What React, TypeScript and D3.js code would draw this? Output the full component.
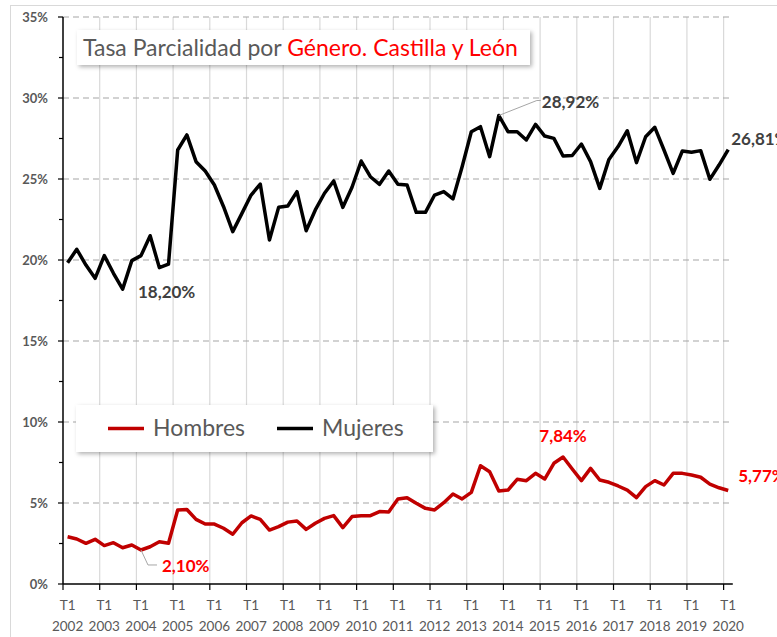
import React from "react";
import * as d3 from "d3";

const years = ["2002", "2003", "2004", "2005", "2006", "2007", "2008", "2009", "2010", "2011", "2012", "2013", "2014", "2015", "2016", "2017", "2018", "2019", "2020"];
const quarterNames = ["T1", "T2", "T3", "T4"];

// Tasa de parcialidad (%) por trimestre, T1 2002 - T1 2020
const mujeres = [
  19.83, 20.66, 19.69, 18.87, 20.27, 19.18, 18.2, 19.96, 20.27, 21.5, 19.53, 19.75,
  26.79, 27.72, 26.07, 25.49, 24.63, 23.29, 21.75, 22.88, 24.01, 24.69, 21.23, 23.25,
  23.33, 24.22, 21.81, 23.09, 24.12, 24.88, 23.25, 24.49, 26.11, 25.14, 24.67, 25.49,
  24.67, 24.63, 22.94, 22.94, 24.01, 24.22, 23.77, 25.76, 27.92, 28.23, 26.38, 28.92,
  27.92, 27.92, 27.41, 28.37, 27.65, 27.51, 26.42, 26.45, 27.16, 26.07, 24.42, 26.21,
  27.0, 27.98, 26.01, 27.61, 28.19, 26.79, 25.35, 26.73, 26.65, 26.75, 24.98, 25.86, 26.81,
];
const hombres = [
  2.92, 2.78, 2.51, 2.76, 2.37, 2.55, 2.24, 2.41, 2.1, 2.3, 2.61, 2.51,
  4.57, 4.6, 3.99, 3.7, 3.7, 3.44, 3.07, 3.78, 4.2, 3.99, 3.33, 3.54,
  3.82, 3.89, 3.37, 3.75, 4.05, 4.22, 3.48, 4.16, 4.22, 4.22, 4.47, 4.45,
  5.25, 5.33, 4.98, 4.67, 4.57, 5.02, 5.56, 5.25, 5.66, 7.3, 6.93, 5.74,
  5.8, 6.46, 6.38, 6.83, 6.48, 7.45, 7.84, 7.1, 6.38, 7.14, 6.42, 6.28,
  6.05, 5.8, 5.33, 6.01, 6.38, 6.11, 6.83, 6.83, 6.73, 6.59, 6.17, 5.94, 5.77,
];
const yTicks = [0, 5, 10, 15, 20, 25, 30, 35];

// categories: every quarter from T1 2002 to T1 2020
const categories: string[] = [];
years.forEach((y) => {
  quarterNames.forEach((q) => {
    if (y !== "2020" || q === "T1") categories.push(`${q} ${y}`);
  });
});

const W = 777;
const H = 637;
const margin = { left: 63, right: 44.2, top: 17, bottom: 53 };
const FONT = "Lato, 'Open Sans', sans-serif";
const GREY = "#595959";

const fmt = (v: number) => v.toFixed(2).replace(".", ",") + "%";

export default function App() {
  const x = d3
    .scaleBand<string>()
    .domain(categories)
    .range([margin.left, W - margin.right])
    .paddingInner(0)
    .paddingOuter(0);
  const y = d3.scaleLinear().domain([0, 35]).range([H - margin.bottom, margin.top]);
  const cx = (i: number) => (x(categories[i]) as number) + x.bandwidth() / 2;

  const line = d3
    .line<number>()
    .x((_, i) => cx(i))
    .y((d) => y(d))
    .curve(d3.curveLinear);

  const x0 = margin.left;
  const x1 = W - margin.right;
  const yBase = y(0);
  const minorTicks = d3.range(2.5, 35, 5);
  const yearStarts = categories.map((c, i) => ({ c, i })).filter((d) => d.c.startsWith("T1"));

  // annotation anchors
  const iMinM = mujeres.indexOf(d3.min(mujeres) as number);
  const iMaxM = mujeres.indexOf(d3.max(mujeres) as number);
  const iMinH = hombres.indexOf(d3.min(hombres) as number);
  const iMaxH = hombres.indexOf(d3.max(hombres) as number);
  const last = categories.length - 1;

  return (
    <svg
      width={W}
      height={H}
      style={{ position: "absolute", left: 0, top: 0, display: "block", background: "#fff" }}
      fontFamily={FONT}
    >
      <defs>
        <filter id="shadow" x="-5%" y="-20%" width="115%" height="150%">
          <feDropShadow dx="2" dy="2" stdDeviation="2" floodColor="#000" floodOpacity="0.3" />
        </filter>
      </defs>
      <rect x={10.5} y={5.5} width={W + 20} height={H + 20} fill="#fff" stroke="#d9d9d9" />

      {/* vertical gridlines at each year */}
      {yearStarts.slice(1).map((d) => (
        <line
          key={"vg" + d.i}
          x1={x(d.c)}
          x2={x(d.c)}
          y1={margin.top}
          y2={yBase}
          stroke="#d9d9d9"
          strokeWidth={1.2}
        />
      ))}
      {/* horizontal dashed gridlines */}
      {yTicks.slice(1).map((t) => (
        <line
          key={"hg" + t}
          x1={x0}
          x2={x1}
          y1={y(t)}
          y2={y(t)}
          stroke="#a6a6a6"
          strokeWidth={1.2}
          strokeDasharray="6,4"
        />
      ))}

      {/* axes */}
      <line x1={x0} x2={x0} y1={margin.top} y2={yBase} stroke="#000" strokeWidth={1.5} />
      <line x1={x0} x2={x1} y1={yBase} y2={yBase} stroke="#000" strokeWidth={1.5} />
      {yTicks.map((t) => (
        <g key={"yt" + t}>
          <line x1={x0 - 5} x2={x0} y1={y(t)} y2={y(t)} stroke="#000" strokeWidth={1.2} />
          <text x={48} y={y(t)} dy="0.35em" textAnchor="end" fontSize={13} fontWeight={700} fill={GREY}>
            {t}%
          </text>
        </g>
      ))}
      {minorTicks.map((t) => (
        <line key={"ym" + t} x1={x0 - 4} x2={x0} y1={y(t)} y2={y(t)} stroke="#000" strokeWidth={1.2} />
      ))}
      {yearStarts.map((d) => {
        const [q, yr] = d.c.split(" ");
        const tx = x(d.c) as number;
        return (
          <g key={"xt" + d.i}>
            <line x1={tx} x2={tx} y1={yBase} y2={yBase + 6} stroke="#000" strokeWidth={1.2} />
            <text x={cx(d.i)} y={610} textAnchor="middle" fontSize={13.5} fill={GREY}>
              {q}
            </text>
            <text x={cx(d.i)} y={631} textAnchor="middle" fontSize={13.5} fill={GREY}>
              {yr}
            </text>
          </g>
        );
      })}

      {/* series */}
      <path d={line(hombres) as string} fill="none" stroke="#c00000" strokeWidth={3.5} strokeLinejoin="round" />
      <path d={line(mujeres) as string} fill="none" stroke="#000" strokeWidth={3.5} strokeLinejoin="round" />

      {/* data labels */}
      <text x={cx(iMinM) + 44} y={y(mujeres[iMinM]) + 9} textAnchor="middle" fontSize={17} fontWeight={700} fill="#404040">
        {fmt(mujeres[iMinM])}
      </text>
      <polyline
        points={`${cx(iMaxM)},${y(mujeres[iMaxM])} ${cx(iMaxM) + 38},${y(mujeres[iMaxM]) - 15} ${cx(iMaxM) + 42},${y(mujeres[iMaxM]) - 15}`}
        fill="none"
        stroke="#a6a6a6"
        strokeWidth={1}
      />
      <text x={cx(iMaxM) + 43} y={y(mujeres[iMaxM]) - 7} fontSize={17} fontWeight={700} fill="#404040">
        {fmt(mujeres[iMaxM])}
      </text>
      <text x={cx(last) + 3} y={y(mujeres[last]) - 5} fontSize={17} fontWeight={700} fill="#404040">
        {fmt(mujeres[last])}
      </text>
      <polyline
        points={`${cx(iMinH)},${y(hombres[iMinH])} ${cx(iMinH) + 7},${y(hombres[iMinH]) + 15} ${cx(iMinH) + 16},${y(hombres[iMinH]) + 15}`}
        fill="none"
        stroke="#a6a6a6"
        strokeWidth={1}
      />
      <text x={cx(iMinH) + 21} y={y(hombres[iMinH]) + 22} fontSize={17} fontWeight={700} fill="#ff0000">
        {fmt(hombres[iMinH])}
      </text>
      <text x={cx(iMaxH)} y={y(hombres[iMaxH]) - 15} textAnchor="middle" fontSize={17} fontWeight={700} fill="#ff0000">
        {fmt(hombres[iMaxH])}
      </text>
      <text x={cx(last) + 10} y={y(hombres[last]) - 9} fontSize={17} fontWeight={700} fill="#ff0000">
        {fmt(hombres[last])}
      </text>

      {/* title box */}
      <rect x={77} y={30} width={453} height={35} fill="#fff" filter="url(#shadow)" />
      <text x={83} y={56} fontSize={23} fill={GREY}>
        Tasa Parcialidad por <tspan fill="#ff0000">Género. Castilla y León</tspan>
      </text>

      {/* legend box */}
      <rect x={76} y={405} width={357} height={47} fill="#fff" filter="url(#shadow)" />
      <line x1={108} x2={144} y1={428.5} y2={428.5} stroke="#c00000" strokeWidth={3.5} />
      <text x={153} y={436} fontSize={23} fill={GREY}>
        Hombres
      </text>
      <line x1={277} x2={313} y1={428.5} y2={428.5} stroke="#000" strokeWidth={3.5} />
      <text x={322} y={436} fontSize={23} fill={GREY}>
        Mujeres
      </text>
    </svg>
  );
}
